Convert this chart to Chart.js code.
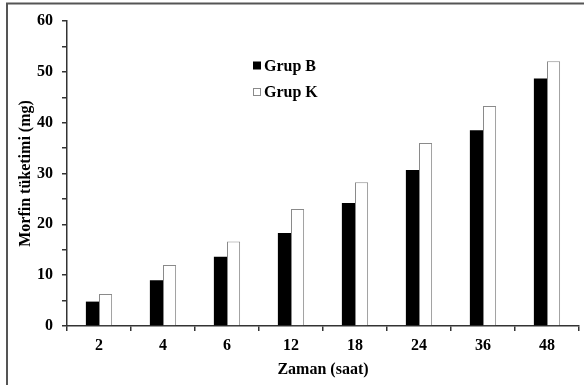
<!DOCTYPE html>
<html>
<head>
<meta charset="utf-8">
<script src="https://cdn.jsdelivr.net/npm/chart.js@4/dist/chart.umd.min.js"></script>
<style>
  html, body { margin: 0; padding: 0; background: #fff; }
  #wrap { width: 584px; height: 385px; position: relative; }
</style>
</head>
<body>
<div id="wrap"><canvas id="morfinChart" width="584" height="385"></canvas></div>
<script>
// Veriler
const saatler = ['2', '4', '6', '12', '18', '24', '36', '48'];
const grupB = [4.8, 9.0, 13.6, 18.3, 24.2, 30.7, 38.5, 48.7];
const grupK = [6.3, 12.0, 16.6, 23.0, 28.3, 36.0, 43.3, 52.1];
const yTicks = [0, 10, 20, 30, 40, 50, 60];

const serif = '"Liberation Serif", "Times New Roman", serif';

// Çerçeve (sol ve üst kenar)
const framePlugin = {
    id: 'frame',
    beforeDraw(chart) {
        const ctx = chart.ctx;
        ctx.save();
        ctx.fillStyle = '#fff';
        ctx.fillRect(0, 0, chart.width, chart.height);
        ctx.strokeStyle = '#555';
        ctx.lineWidth = 2;
        ctx.beginPath();
        ctx.moveTo(7, chart.height);
        ctx.lineTo(7, 3.5);
        ctx.lineTo(chart.width, 3.5);
        ctx.stroke();
        ctx.restore();
    }
};

// Grafik içindeki açıklama
const legendPlugin = {
    id: 'innerLegend',
    afterDraw(chart) {
        const ctx = chart.ctx;
        ctx.save();
        ctx.font = 'bold 16px ' + serif;
        ctx.textBaseline = 'middle';
        chart.data.datasets.forEach((ds, i) => {
            const y = 65.5 + i * 26.5;
            ctx.fillStyle = ds.backgroundColor;
            ctx.fillRect(253.5, y - 3.5, 7, 7);
            ctx.strokeStyle = ds.borderColor;
            ctx.lineWidth = 1;
            ctx.strokeRect(253.5, y - 3.5, 7, 7);
            ctx.fillStyle = '#000';
            ctx.fillText(ds.label, 264, y + 1);
        });
        ctx.restore();
    }
};

const ctx = document.getElementById('morfinChart').getContext('2d');
new Chart(ctx, {
    type: 'bar',
    data: {
        labels: saatler,
        datasets: [{
            label: 'Grup B',
            data: grupB,
            backgroundColor: '#000',
            borderColor: '#000',
            borderWidth: 0
        }, {
            label: 'Grup K',
            data: grupK,
            backgroundColor: '#fff',
            borderColor: '#8a8a8a',
            borderWidth: 1
        }]
    },
    options: {
        responsive: false,
        animation: false,
        categoryPercentage: 0.41,
        barPercentage: 1.0,
        layout: { padding: { left: 0, right: 5, top: 21, bottom: 0 } },
        plugins: {
            legend: { display: false },
            tooltip: { enabled: false }
        },
        scales: {
            x: {
                afterFit(scale) { scale.height = 59; },
                grid: {
                    offset: true,
                    drawOnChartArea: false,
                    drawTicks: true,
                    tickLength: 5,
                    color: '#333',
                    lineWidth: 1.5
                },
                border: { color: '#333', width: 1.5 },
                ticks: {
                    color: '#000',
                    padding: 5,
                    font: { family: serif, size: 16, weight: 'bold' }
                },
                title: {
                    display: true,
                    text: 'Zaman (saat)',
                    color: '#000',
                    padding: { top: 0, bottom: 6 },
                    font: { family: serif, size: 16, weight: 'bold' }
                }
            },
            y: {
                min: 0,
                max: 60,
                afterFit(scale) { scale.width = 67; },
                afterBuildTicks(scale) {
                    const t = [];
                    for (let v = 0; v <= 60; v += 5) t.push({ value: v });
                    scale.ticks = t;
                },
                grid: {
                    drawOnChartArea: false,
                    drawTicks: true,
                    tickLength: 5,
                    color: '#333',
                    lineWidth: 1.5
                },
                border: { color: '#333', width: 1.5 },
                ticks: {
                    color: '#000',
                    padding: 9,
                    autoSkip: false,
                    font: { family: serif, size: 16, weight: 'bold' },
                    callback: (v) => yTicks.includes(v) ? String(v) : ''
                },
                title: {
                    display: true,
                    text: 'Morfin tüketimi (mg)',
                    color: '#000',
                    padding: { top: 16, bottom: 0 },
                    font: { family: serif, size: 16, weight: 'bold' }
                }
            }
        }
    },
    plugins: [framePlugin, legendPlugin]
});
</script>
</body>
</html>
